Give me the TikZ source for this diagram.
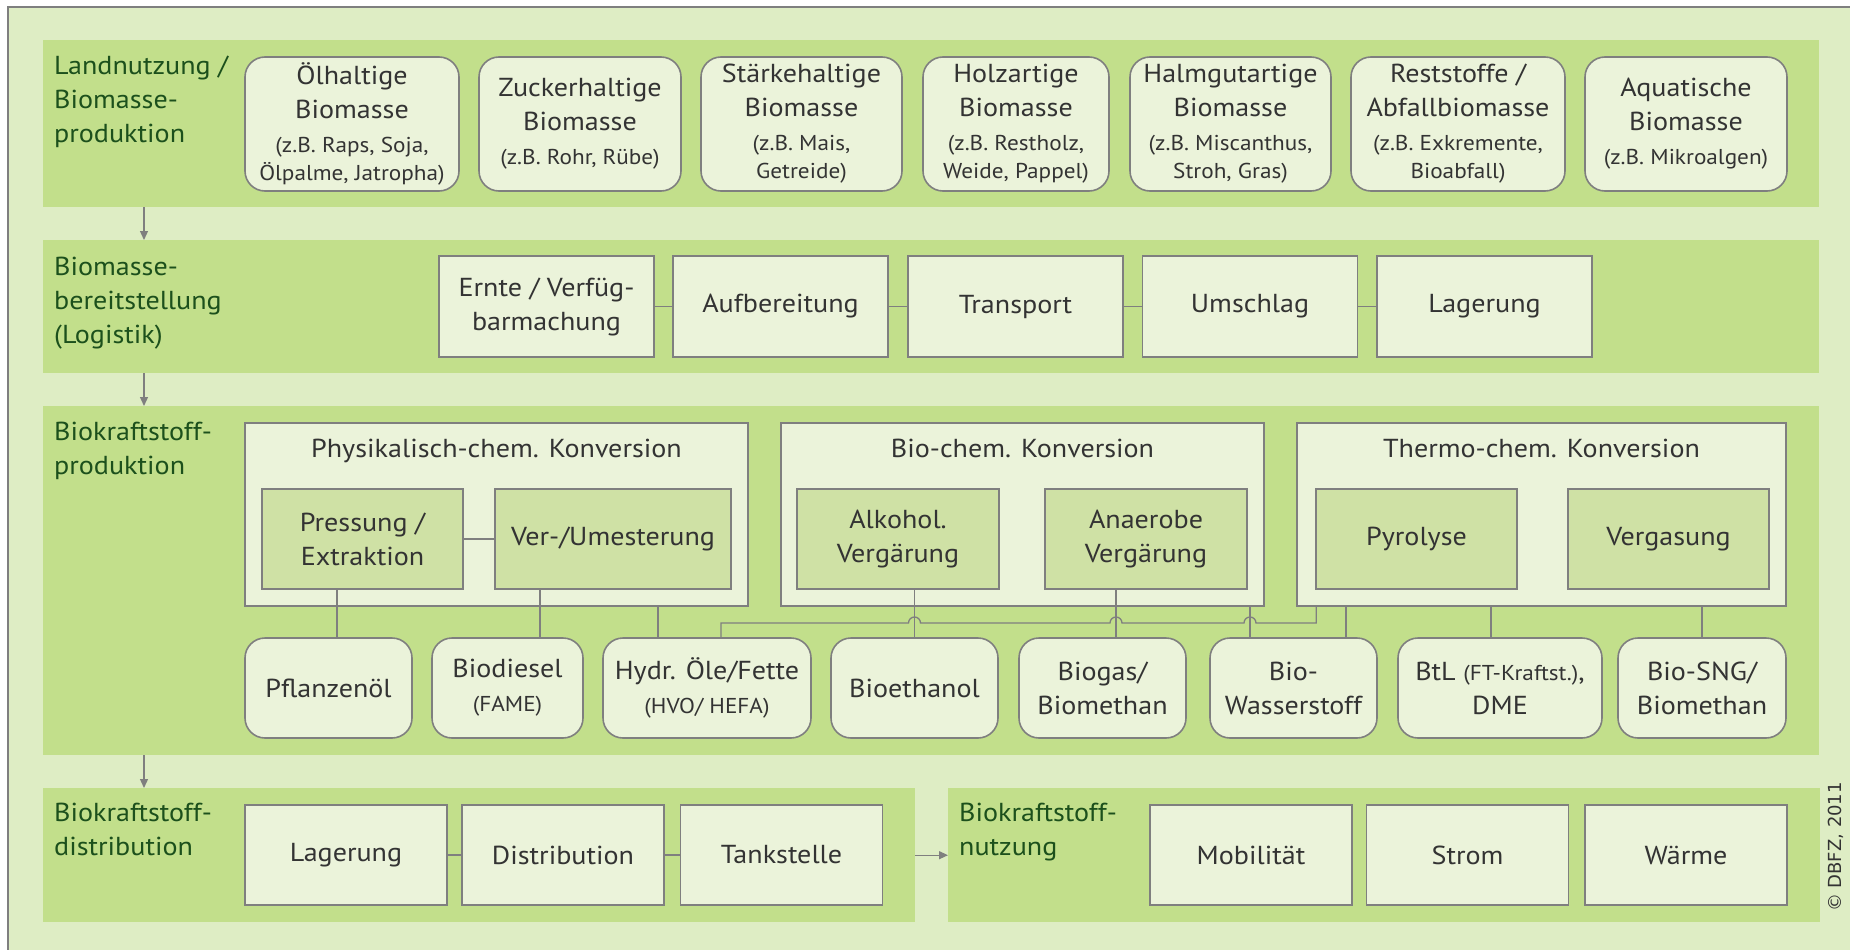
\documentclass[tikz,border=0pt]{standalone}
\usepackage{fontspec}
\setmainfont{PT Sans}
\newfontfamily\boxfont{PT Sans}[FakeStretch=1.08]
\newfontfamily\copyfont{DejaVu Sans}
\usetikzlibrary{arrows.meta}
\usetikzlibrary{calc}

\definecolor{framegreen}{HTML}{DEEDC4}
\definecolor{bandgreen}{HTML}{C2DF8B}
\definecolor{boxgreen}{HTML}{EBF3DA}
\definecolor{procgreen}{HTML}{CFE1A5}
\definecolor{linegray}{HTML}{7F7F7F}
\definecolor{textgray}{HTML}{333333}
\definecolor{labelgreen}{HTML}{1C501C}

\tikzset{
  band/.style={fill=bandgreen,inner sep=0pt,anchor=north west},
  lbl/.style={anchor=north west,align=left,text=labelgreen,inner sep=0pt,font=\boxfont\fontsize{26}{34}\selectfont},
  rbox/.style={draw=linegray,line width=1.6pt,fill=boxgreen,rounded corners=20pt,align=center,text=textgray,inner sep=0pt,font=\boxfont\fontsize{26}{34}\selectfont},
  sbox/.style={draw=linegray,line width=1.6pt,fill=boxgreen,align=center,text=textgray,inner sep=0pt,font=\boxfont\fontsize{26}{34}\selectfont},
  pbox/.style={sbox,fill=procgreen},
  gtitle/.style={anchor=base,text=textgray,inner sep=0pt,font=\boxfont\fontsize{26}{34}\selectfont},
  link/.style={draw=linegray,line width=1.3pt},
  flow/.style={draw=linegray,line width=1.3pt,->},
}
\newcommand\klein{\fontsize{21.5}{27}\selectfont}

\begin{document}
\begin{tikzpicture}[x=1pt,y=-1pt,>={Triangle[length=9pt,width=8pt]}]
	\useasboundingbox (0,0) rectangle (1850,950);
	\fill[white] (0,0) rectangle (1850,950);
	\filldraw[fill=framegreen,draw=linegray,line width=2pt] (8,7) rectangle (1870,970);

	% Landnutzung
	\node[band,minimum width=1776pt,minimum height=167pt] (band1) at (43,40) {};
	\node[lbl] (lbl1) at (54,56) {Landnutzung /\\Biomasse-\\produktion};
	\node[rbox,minimum width=214pt,minimum height=134pt] (oel) at (352,124) {Ölhaltige\\Biomasse\\{\klein (z.B. Raps, Soja,}\\[-6pt]{\klein Ölpalme, Jatropha)}};
	\node[rbox,minimum width=202pt,minimum height=134pt] (zucker) at (580,124) {Zuckerhaltige\\Biomasse\\{\klein (z.B. Rohr, Rübe)}};
	\node[rbox,minimum width=201pt,minimum height=134pt] (staerke) at (801.5,124) {Stärkehaltige\\Biomasse\\{\klein (z.B. Mais,}\\[-6pt]{\klein Getreide)}};
	\node[rbox,minimum width=186pt,minimum height=134pt] (holz) at (1016,124) {Holzartige\\Biomasse\\{\klein (z.B. Restholz,}\\[-6pt]{\klein Weide, Pappel)}};
	\node[rbox,minimum width=201pt,minimum height=134pt] (halm) at (1230.5,124) {Halmgutartige\\Biomasse\\{\klein (z.B. Miscanthus,}\\[-6pt]{\klein Stroh, Gras)}};
	\node[rbox,minimum width=214pt,minimum height=134pt] (rest) at (1458,124) {Reststoffe /\\Abfallbiomasse\\{\klein (z.B. Exkremente,}\\[-6pt]{\klein Bioabfall)}};
	\node[rbox,minimum width=202pt,minimum height=134pt] (aqua) at (1686,124) {Aquatische\\Biomasse\\{\klein (z.B. Mikroalgen)}};

	% Bereitstellung
	\node[band,minimum width=1776pt,minimum height=133pt] (band2) at (43,240) {};
	\node[lbl] (lbl2) at (54,257) {Biomasse-\\bereitstellung\\(Logistik)};
	\node[sbox,minimum width=215pt,minimum height=101pt] (ernte) at (546.5,306.5) {Ernte / Verfüg-\\barmachung};
	\node[sbox,minimum width=215pt,minimum height=101pt] (aufb) at (780.5,306.5) {Aufbereitung};
	\node[sbox,minimum width=215pt,minimum height=101pt] (transp) at (1015.5,306.5) {Transport};
	\node[sbox,minimum width=215pt,minimum height=101pt] (umschl) at (1250,306.5) {Umschlag};
	\node[sbox,minimum width=215pt,minimum height=101pt] (lager) at (1484.5,306.5) {Lagerung};
	\draw[link] (ernte) -- (aufb);
	\draw[link] (aufb) -- (transp);
	\draw[link] (transp) -- (umschl);
	\draw[link] (umschl) -- (lager);

	% Produktion
	\node[band,minimum width=1776pt,minimum height=349pt] (band3) at (43,406) {};
	\node[lbl] (lbl3) at (54,422) {Biokraftstoff-\\produktion};

	\node[sbox,minimum width=503pt,minimum height=183pt] (phys) at (496.5,514.5) {};
	\node[sbox,minimum width=483pt,minimum height=183pt] (bio) at (1022.5,514.5) {};
	\node[sbox,minimum width=489pt,minimum height=183pt] (thermo) at (1541.5,514.5) {};
	\node[gtitle] (phystitle) at (496.5,457) {Physikalisch-chem. Konversion};
	\node[gtitle] (biotitle) at (1022.5,457) {Bio-chem. Konversion};
	\node[gtitle] (thermotitle) at (1541.5,457) {Thermo-chem. Konversion};

	\node[pbox,minimum width=201pt,minimum height=100pt] (press) at (362.5,539) {Pressung /\\Extraktion};
	\node[pbox,minimum width=236pt,minimum height=100pt] (umest) at (613,539) {Ver-/Umesterung};
	\node[pbox,minimum width=202pt,minimum height=100pt] (alk) at (898,539) {Alkohol.\\Vergärung};
	\node[pbox,minimum width=202pt,minimum height=100pt] (anae) at (1146,539) {Anaerobe\\Vergärung};
	\node[pbox,minimum width=201pt,minimum height=100pt] (pyro) at (1416.5,539) {Pyrolyse};
	\node[pbox,minimum width=201pt,minimum height=100pt] (verg) at (1668.5,539) {Vergasung};
	\draw[link] (press) -- (umest);

	\node[rbox,minimum width=167pt,minimum height=100pt] (pfloel) at (328.5,688) {Pflanzenöl};
	\node[rbox,minimum width=151pt,minimum height=100pt] (diesel) at (507.5,688) {Biodiesel\\{\klein (FAME)}};
	\node[rbox,minimum width=208pt,minimum height=100pt] (hydr) at (707,688) {Hydr. Öle/Fette\\{\klein (HVO/ HEFA)}};
	\node[rbox,minimum width=167pt,minimum height=100pt] (ethanol) at (914.5,688) {Bioethanol};
	\node[rbox,minimum width=167pt,minimum height=100pt] (biogas) at (1102.5,688) {Biogas/\\Biomethan};
	\node[rbox,minimum width=167pt,minimum height=100pt] (wasser) at (1293.5,688) {Bio-\\Wasserstoff};
	\node[rbox,minimum width=204pt,minimum height=100pt] (btl) at (1500,688) {BtL {\klein (FT-Kraftst.)},\\DME};
	\node[rbox,minimum width=168pt,minimum height=100pt] (sng) at (1702,688) {Bio-SNG/\\Biomethan};

	\draw[link] ([xshift=8.5pt]pfloel.north) -- ([xshift=8.5pt]pfloel.north |- press.south);
	\draw[link] ([xshift=32.5pt]diesel.north) -- ([xshift=32.5pt]diesel.north |- umest.south);
	\draw[link] ([xshift=-49pt]hydr.north) -- ([xshift=-49pt]hydr.north |- phys.south);
	\draw[link] (ethanol.north) -- (ethanol.north |- alk.south);
	\draw[link] ([xshift=13.5pt]biogas.north) -- ([xshift=13.5pt]biogas.north |- anae.south);
	\draw[link] ([xshift=-43.5pt]wasser.north) -- ([xshift=-43.5pt]wasser.north |- bio.south);
	\draw[link] ([xshift=52.5pt]wasser.north) -- ([xshift=52.5pt]wasser.north |- thermo.south);
	\draw[link] ([xshift=-9pt]btl.north) -- ([xshift=-9pt]btl.north |- thermo.south);
	\draw[link] (sng.north) -- (sng.north |- thermo.south);

	\coordinate (hop1) at (1250,623);
	\coordinate (hop2) at (1116,623);
	\coordinate (hop3) at (914.5,623);
	\draw[link] ([xshift=20pt]thermo.south west) |- ([xshift=6pt]hop1)
		arc[start angle=0,end angle=180,radius=6pt] -- ([xshift=6pt]hop2)
		arc[start angle=0,end angle=180,radius=6pt] -- ([xshift=6pt]hop3)
		arc[start angle=0,end angle=180,radius=6pt] -| ([xshift=14pt]hydr.north);

	% Distribution / Nutzung
	\node[band,minimum width=872pt,minimum height=134pt] (band4) at (43,788) {};
	\node[lbl] (lbl4) at (54,803) {Biokraftstoff-\\distribution};
	\node[sbox,minimum width=202pt,minimum height=100pt] (tlager) at (346,855) {Lagerung};
	\node[sbox,minimum width=202pt,minimum height=100pt] (distr) at (563,855) {Distribution};
	\node[sbox,minimum width=202pt,minimum height=100pt] (tank) at (781.5,855) {Tankstelle};
	\draw[link] (tlager) -- (distr);
	\draw[link] (distr) -- (tank);

	\node[band,minimum width=872pt,minimum height=134pt] (band5) at (948,788) {};
	\node[lbl] (lbl5) at (959,803) {Biokraftstoff-\\nutzung};
	\node[sbox,minimum width=202pt,minimum height=100pt] (mobil) at (1251,855) {Mobilität};
	\node[sbox,minimum width=202pt,minimum height=100pt] (strom) at (1467.5,855) {Strom};
	\node[sbox,minimum width=202pt,minimum height=100pt] (waerme) at (1686,855) {Wärme};

	% Pfeile
	\draw[flow] ([xshift=101pt]band1.south west) -- ([xshift=101pt]band2.north west);
	\draw[flow] ([xshift=101pt]band2.south west) -- ([xshift=101pt]band3.north west);
	\draw[flow] ([xshift=101pt]band3.south west) -- ([xshift=101pt]band4.north west);
	\draw[flow] (band4.east) -- (band5.west);

	\node[rotate=90,text=textgray,font=\copyfont\fontsize{18}{20}\selectfont] (copy) at (1836,847) {© DBFZ, 2011};
\end{tikzpicture}
\end{document}
